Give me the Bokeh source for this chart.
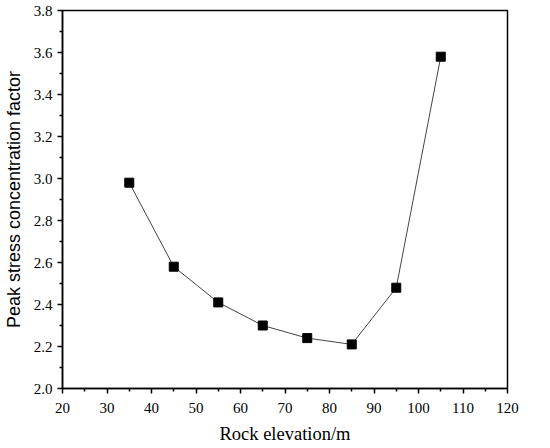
from bokeh.plotting import figure
from bokeh.models import Range1d, FixedTicker
from bokeh.embed import file_html
from bokeh.resources import INLINE

elevation = [35, 45, 55, 65, 75, 85, 95, 105]
factor = [2.98, 2.58, 2.41, 2.30, 2.24, 2.21, 2.48, 3.58]

x_ticks = [20, 30, 40, 50, 60, 70, 80, 90, 100, 110, 120]
x_minor = [25, 35, 45, 55, 65, 75, 85, 95, 105, 115]
y_ticks = [2.0, 2.2, 2.4, 2.6, 2.8, 3.0, 3.2, 3.4, 3.6, 3.8]
y_minor = [2.1, 2.3, 2.5, 2.7, 2.9, 3.1, 3.3, 3.5, 3.7]
y_labels = ["2.0", "2.2", "2.4", "2.6", "2.8", "3.0", "3.2", "3.4", "3.6", "3.8"]

FONT = "Liberation Serif"

p = figure(width=534, height=446, output_backend="svg", toolbar_location=None,
           x_range=Range1d(20, 120), y_range=Range1d(2.0, 3.8),
           min_border_left=62, min_border_right=27, min_border_top=10, min_border_bottom=57)
p.grid.visible = False
p.background_fill_color = "white"
p.border_fill_color = "white"
p.outline_line_color = "black"
p.outline_line_width = 1.5
p.outline_line_alpha = 1

p.line(elevation, factor, line_color="#444444", line_width=1)
p.scatter(elevation, factor, marker="square", size=9, fill_color="black", line_color="black")

p.xaxis.ticker = FixedTicker(ticks=x_ticks, minor_ticks=x_minor)
p.yaxis.ticker = FixedTicker(ticks=y_ticks, minor_ticks=y_minor)
p.yaxis.major_label_overrides = {t: l for t, l in zip(y_ticks, y_labels)}

for ax in (p.xaxis[0], p.yaxis[0]):
    ax.axis_line_color = "black"
    ax.axis_line_width = 1.5
    ax.major_tick_line_color = "black"
    ax.major_tick_line_width = 1.5
    ax.minor_tick_line_color = "black"
    ax.minor_tick_line_width = 1.5
    ax.major_tick_out = 5
    ax.major_tick_in = 0
    ax.minor_tick_out = 3
    ax.minor_tick_in = 0
    ax.major_label_text_font = FONT
    ax.major_label_text_font_size = "15px"
    ax.major_label_text_color = "black"
    ax.axis_label_text_font_style = "normal"
    ax.axis_label_text_color = "black"

p.xaxis.axis_label = "Rock elevation/m"
p.xaxis.axis_label_text_font = FONT
p.xaxis.axis_label_text_font_size = "18.5px"
p.yaxis.axis_label = "Peak stress concentration factor"
p.yaxis.axis_label_text_font = "Liberation Sans"
p.yaxis.axis_label_text_font_size = "18px"
p.xaxis.major_label_standoff = 9
p.xaxis.axis_label_standoff = 8
p.yaxis.major_label_standoff = 5
p.yaxis.axis_label_standoff = 7

open("out.html", "w").write(file_html(p, INLINE))
